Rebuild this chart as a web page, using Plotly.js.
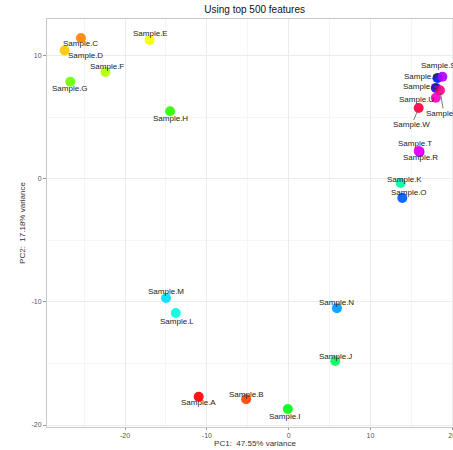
<!DOCTYPE html>
<html>
<head>
<meta charset="utf-8">
<script src="https://cdn.plot.ly/plotly-3.0.1.min.js"></script>
<style>
html,body{margin:0;padding:0;overflow:hidden;background:#fff;}
#chart{width:463px;height:450px;}
</style>
</head>
<body>
<div id="chart"></div>
<script>
// ---- data ----
const samples = ["Sample.A","Sample.B","Sample.C","Sample.D","Sample.E","Sample.F","Sample.G","Sample.H",
  "Sample.I","Sample.J","Sample.K","Sample.L","Sample.M","Sample.N","Sample.O","Sample.P","Sample.Q",
  "Sample.R","Sample.S","Sample.T","Sample.U","Sample.V","Sample.W"];
const pc1 = [-11.0,-5.2,-25.4,-27.4,-17.0,-22.4,-26.7,-14.5,-0.1,5.7,13.7,-13.8,-15.0,5.9,13.9,18.2,18.0,16.0,18.8,15.9,18.0,18.5,15.9];
const pc2 = [-17.7,-17.9,11.46,10.45,11.3,8.7,7.9,5.5,-18.7,-14.8,-0.33,-10.9,-9.67,-10.5,-1.54,8.2,7.4,2.2,8.3,2.28,6.6,7.2,5.77];
const xTicks = [-20,-10,0,10,20];
const yTicks = [-20,-10,0,10];
const chartTitle = "Using top 500 features";
const xTitle = "PC1:\u00a0\u00a047.55% variance";
const yTitle = "PC2:\u00a0\u00a017.18% variance";

// ---- label placement (pixel offsets from point) & styles ----
const labelDx = [0,0,0,21,1,2,0,0,-3,0,4,1,0,0,7,-16,-15,1,-4,-4,-19,4,-7];
const labelDy = [6,-5,6,5,-6,-5,7,7,7,-5,-4,8,-6,-6,-5,-2,-1,6,-11,-7,2,23,17];
const connector = [false,false,false,false,false,false,false,false,false,false,false,false,false,false,false,false,false,false,false,false,false,true,true];

const n = samples.length;
const colors = samples.map((s,i)=>`hsl(${(i*360/n).toFixed(2)},100%,50%)`);

const traces = samples.map((s,i)=>({
  type:'scatter', mode:'markers', x:[pc1[i]], y:[pc2[i]], name:s, showlegend:false,
  marker:{size:10, color:colors[i], opacity:0.92, line:{width:0}}, hoverinfo:'name'
}));

const annotations = samples.map((s,i)=>({
  x:pc1[i], y:pc2[i], xref:'x', yref:'y', text:s, showarrow:true,
  ax:labelDx[i], ay:labelDy[i], arrowhead:0, arrowwidth:0.8,
  arrowcolor: connector[i] ? '#555' : 'rgba(0,0,0,0)', standoff:3,
  font:{family:'Liberation Sans, Arial, sans-serif', size:8, color:'#222'},
  xanchor:'center', yanchor:'middle', borderpad:0
}));

const layout = {
  width:463, height:450,
  margin:{l:47, r:0, t:19, b:23},
  paper_bgcolor:'#fff', plot_bgcolor:'#fff',
  title:{text:chartTitle, x:0.55, xanchor:'center', y:0.978, yanchor:'middle',
    font:{family:'Liberation Sans, Arial, sans-serif', size:10, color:'#111'}},
  font:{family:'Liberation Sans, Arial, sans-serif'},
  xaxis:{range:[-29.55,21.32], tickvals:xTicks, ticktext:xTicks.map(String),
    showgrid:true, gridcolor:'#ebebeb', gridwidth:1,
    minor:{dtick:5, showgrid:true, gridcolor:'#f5f5f5', gridwidth:1},
    zeroline:false, showline:true, mirror:true, linecolor:'#c8c8c8', linewidth:1,
    ticks:'outside', ticklen:2, tickcolor:'#999', tickfont:{size:7, color:'#555'},
    title:{text:xTitle, standoff:0, font:{size:8, color:'#333'}}, automargin:false},
  yaxis:{range:[-20.16,13.0], tickvals:yTicks, ticktext:yTicks.map(String),
    showgrid:true, gridcolor:'#ebebeb', gridwidth:1,
    minor:{dtick:5, showgrid:true, gridcolor:'#f5f5f5', gridwidth:1},
    zeroline:false, showline:true, mirror:true, linecolor:'#c8c8c8', linewidth:1,
    ticks:'outside', ticklen:3, tickcolor:'#999', tickfont:{size:7, color:'#555'},
    title:{text:yTitle, standoff:4, font:{size:8, color:'#333'}}, automargin:false},
  annotations:annotations,
  showlegend:false
};

Plotly.newPlot('chart', traces, layout, {staticPlot:true, displayModeBar:false});
</script>
</body>
</html>
